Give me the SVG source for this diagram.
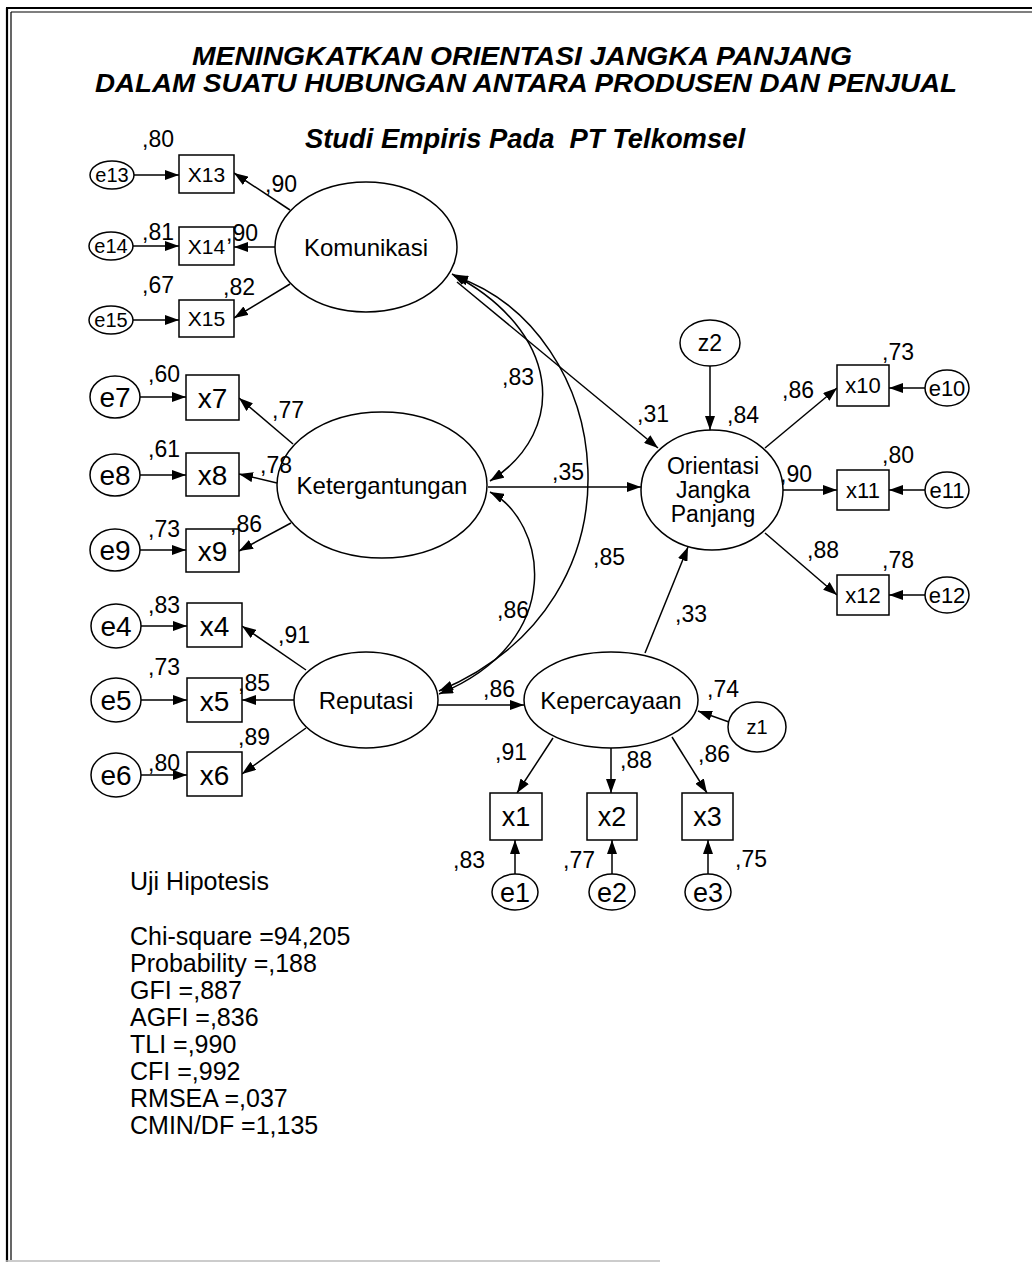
<svg xmlns="http://www.w3.org/2000/svg" width="1032" height="1264" viewBox="0 0 1032 1264">
<defs>
<marker id="arr" markerUnits="userSpaceOnUse" markerWidth="14" markerHeight="10" refX="14" refY="5" orient="auto-start-reverse">
<path d="M0,0 L14,5 L0,10 z" fill="#000"/>
</marker>
</defs>
<style>
text{font-family:"Liberation Sans",Arial,sans-serif;fill:#000}
.title{font-size:25px;font-weight:bold;font-style:italic}
.sub{font-size:27px;font-weight:bold;font-style:italic}
.lat{font-size:24px;text-anchor:middle}
.num{font-size:23px}
.sm{font-size:21px;text-anchor:middle}
.big{font-size:28px;text-anchor:middle}
.stat{font-size:25px}
ellipse,rect{fill:#fff;stroke:#000;stroke-width:1.5}
.c line,.c path{stroke:#000;stroke-width:1.5;fill:none}
.a{marker-end:url(#arr)}
.d{marker-start:url(#arr);marker-end:url(#arr)}
</style>
<rect x="0" y="0" width="1032" height="1264" style="fill:#fff;stroke:none"/>
<g id="frame" style="stroke:#000;fill:none">
<line x1="6" y1="8" x2="1032" y2="8" stroke-width="2.2"/>
<line x1="11" y1="12" x2="1032" y2="12" stroke-width="1.2"/>
<line x1="7" y1="8" x2="7" y2="1262" stroke-width="2.2"/>
<line x1="11" y1="12" x2="11" y2="1260" stroke-width="1.2"/>
<line x1="6" y1="1261" x2="660" y2="1261" stroke="#bbb" stroke-width="1.5"/>
</g>
<g id="title">
<text class="title"><tspan x="192" y="65" textLength="660" lengthAdjust="spacingAndGlyphs">MENINGKATKAN ORIENTASI JANGKA PANJANG</tspan><tspan x="95" y="92" textLength="862" lengthAdjust="spacingAndGlyphs">DALAM SUATU HUBUNGAN ANTARA PRODUSEN DAN PENJUAL</tspan></text>
<text class="sub" x="305" y="148" textLength="440" lengthAdjust="spacingAndGlyphs" xml:space="preserve">Studi Empiris Pada  PT Telkomsel</text>
</g>
<g id="connectors" class="c">
<line class="a" x1="134" y1="175" x2="179" y2="175"/>
<line class="a" x1="133" y1="246" x2="179" y2="246"/>
<line class="a" x1="133" y1="320" x2="179" y2="320"/>
<line class="a" x1="290" y1="210" x2="234" y2="173"/>
<line class="a" x1="275" y1="247" x2="234" y2="247"/>
<line class="a" x1="290" y1="284" x2="234" y2="318"/>
<line class="a" x1="140" y1="397" x2="186" y2="397"/>
<line class="a" x1="140" y1="475" x2="186" y2="475"/>
<line class="a" x1="140" y1="550" x2="186" y2="550"/>
<line class="a" x1="293" y1="444" x2="239" y2="398"/>
<line class="a" x1="277" y1="483" x2="239" y2="474"/>
<line class="a" x1="291" y1="523" x2="239" y2="551"/>
<line class="a" x1="141" y1="626" x2="187" y2="626"/>
<line class="a" x1="141" y1="700" x2="187" y2="700"/>
<line class="a" x1="141" y1="775" x2="187" y2="775"/>
<line class="a" x1="306" y1="670" x2="242" y2="626"/>
<line class="a" x1="294" y1="700" x2="242" y2="700"/>
<line class="a" x1="306" y1="728" x2="242" y2="774"/>
<path class="d" d="M452,274 C560,330 570,430 490,481"/>
<path class="d" d="M454,276 C615,330 655,600 439,691"/>
<path class="d" d="M490,492 C545,520 570,640 439,694"/>
<line class="a" x1="457" y1="282" x2="658" y2="448"/>
<line class="a" x1="488" y1="487" x2="641" y2="487"/>
<line class="a" x1="438" y1="705" x2="524" y2="705"/>
<line class="a" x1="645" y1="653" x2="688" y2="547"/>
<line class="a" x1="710" y1="366" x2="710" y2="430"/>
<line class="a" x1="729" y1="722" x2="698" y2="711"/>
<line class="a" x1="765" y1="448" x2="837" y2="388"/>
<line class="a" x1="783" y1="490" x2="837" y2="490"/>
<line class="a" x1="765" y1="533" x2="837" y2="595"/>
<line class="a" x1="925" y1="388" x2="889" y2="388"/>
<line class="a" x1="925" y1="490" x2="889" y2="490"/>
<line class="a" x1="925" y1="595" x2="889" y2="595"/>
<line class="a" x1="553" y1="738" x2="517" y2="793"/>
<line class="a" x1="611" y1="748" x2="611" y2="793"/>
<line class="a" x1="672" y1="737" x2="707" y2="793"/>
<line class="a" x1="515" y1="874" x2="515" y2="840"/>
<line class="a" x1="612" y1="874" x2="612" y2="840"/>
<line class="a" x1="708" y1="874" x2="708" y2="840"/>
</g>
<g id="Komunikasi"><ellipse cx="366" cy="247" rx="91" ry="65"/><text class="lat" x="366" y="256">Komunikasi</text></g>
<g id="Ketergantungan"><ellipse cx="382" cy="485" rx="105" ry="73"/><text class="lat" x="382" y="494">Ketergantungan</text></g>
<g id="Reputasi"><ellipse cx="366" cy="700" rx="72" ry="48"/><text class="lat" x="366" y="709">Reputasi</text></g>
<g id="Orientasi"><ellipse cx="712" cy="490" rx="71" ry="60"/><text class="lat" style="font-size:23px"><tspan x="713" y="474">Orientasi</tspan><tspan x="713" y="498">Jangka</tspan><tspan x="713" y="522">Panjang</tspan></text></g>
<g id="Kepercayaan"><ellipse cx="611" cy="700" rx="87" ry="48"/><text class="lat" x="611" y="709">Kepercayaan</text></g>
<g id="z2"><ellipse cx="710" cy="343" rx="30" ry="23"/><text class="sm" x="710" y="351" style="font-size:23px">z2</text></g>
<g id="z1"><ellipse cx="757" cy="727" rx="29" ry="25"/><text class="sm" x="757" y="734" style="font-size:20px">z1</text></g>
<g id="e13"><ellipse cx="112" cy="175" rx="22" ry="14"/><text class="sm" x="112" y="182" style="font-size:20px">e13</text></g>
<g id="e14"><ellipse cx="111" cy="246" rx="22" ry="14"/><text class="sm" x="111" y="253" style="font-size:20px">e14</text></g>
<g id="e15"><ellipse cx="111" cy="320" rx="22" ry="14"/><text class="sm" x="111" y="327" style="font-size:20px">e15</text></g>
<g id="X13"><rect x="179" y="155" width="55" height="38"/><text class="sm" x="206.5" y="182">X13</text></g>
<g id="X14"><rect x="179" y="227" width="55" height="38"/><text class="sm" x="206.5" y="254">X14</text></g>
<g id="X15"><rect x="179" y="300" width="55" height="37"/><text class="sm" x="206.5" y="326">X15</text></g>
<g id="e7"><ellipse cx="115" cy="397" rx="25" ry="21"/><text class="big" x="115" y="407">e7</text></g>
<g id="e8"><ellipse cx="115" cy="475" rx="25" ry="21"/><text class="big" x="115" y="485">e8</text></g>
<g id="e9"><ellipse cx="115" cy="550" rx="25" ry="21"/><text class="big" x="115" y="560">e9</text></g>
<g id="x7"><rect x="186" y="375" width="53" height="45"/><text class="big" x="212.5" y="408">x7</text></g>
<g id="x8"><rect x="186" y="453" width="53" height="43"/><text class="big" x="212.5" y="485">x8</text></g>
<g id="x9"><rect x="186" y="529" width="53" height="43"/><text class="big" x="212.5" y="561">x9</text></g>
<g id="e4"><ellipse cx="116" cy="626" rx="25" ry="22"/><text class="big" x="116" y="636">e4</text></g>
<g id="e5"><ellipse cx="116" cy="700" rx="25" ry="22"/><text class="big" x="116" y="710">e5</text></g>
<g id="e6"><ellipse cx="116" cy="775" rx="25" ry="22"/><text class="big" x="116" y="785">e6</text></g>
<g id="x4"><rect x="187" y="603" width="55" height="44"/><text class="big" x="214.5" y="636">x4</text></g>
<g id="x5"><rect x="187" y="678" width="55" height="44"/><text class="big" x="214.5" y="711">x5</text></g>
<g id="x6"><rect x="187" y="752" width="55" height="44"/><text class="big" x="214.5" y="785">x6</text></g>
<g id="x10"><rect x="837" y="365" width="52" height="41"/><text class="sm" x="863" y="393" style="font-size:22px">x10</text></g>
<g id="x11"><rect x="837" y="470" width="52" height="40"/><text class="sm" x="863" y="498" style="font-size:22px">x11</text></g>
<g id="x12"><rect x="837" y="575" width="52" height="40"/><text class="sm" x="863" y="603" style="font-size:22px">x12</text></g>
<g id="e10"><ellipse cx="947" cy="388" rx="22" ry="18"/><text class="sm" x="947" y="396" style="font-size:22px">e10</text></g>
<g id="e11"><ellipse cx="947" cy="490" rx="22" ry="18"/><text class="sm" x="947" y="498" style="font-size:22px">e11</text></g>
<g id="e12"><ellipse cx="947" cy="595" rx="22" ry="18"/><text class="sm" x="947" y="603" style="font-size:22px">e12</text></g>
<g id="x1"><rect x="490" y="793" width="52" height="47"/><text class="big" x="516" y="826" style="font-size:27px">x1</text></g>
<g id="x2"><rect x="587" y="793" width="50" height="47"/><text class="big" x="612" y="826" style="font-size:27px">x2</text></g>
<g id="x3"><rect x="682" y="793" width="51" height="47"/><text class="big" x="707.5" y="826" style="font-size:27px">x3</text></g>
<g id="e1"><ellipse cx="515" cy="892" rx="23" ry="18"/><text class="big" x="515" y="902" style="font-size:27px">e1</text></g>
<g id="e2"><ellipse cx="612" cy="892" rx="23" ry="18"/><text class="big" x="612" y="902" style="font-size:27px">e2</text></g>
<g id="e3"><ellipse cx="708" cy="892" rx="23" ry="18"/><text class="big" x="708" y="902" style="font-size:27px">e3</text></g>
<g id="labels">
<text class="num" x="142" y="147">,80</text>
<text class="num" x="265" y="192">,90</text>
<text class="num" x="142" y="240">,81</text>
<text class="num" x="226" y="241">,90</text>
<text class="num" x="142" y="293">,67</text>
<text class="num" x="223" y="295">,82</text>
<text class="num" x="148" y="382">,60</text>
<text class="num" x="272" y="418">,77</text>
<text class="num" x="148" y="457">,61</text>
<text class="num" x="260" y="473">,78</text>
<text class="num" x="148" y="537">,73</text>
<text class="num" x="230" y="532">,86</text>
<text class="num" x="148" y="613">,83</text>
<text class="num" x="278" y="643">,91</text>
<text class="num" x="148" y="675">,73</text>
<text class="num" x="238" y="691">,85</text>
<text class="num" x="238" y="745">,89</text>
<text class="num" x="148" y="771">,80</text>
<text class="num" x="502" y="385">,83</text>
<text class="num" x="637" y="422">,31</text>
<text class="num" x="552" y="480">,35</text>
<text class="num" x="593" y="565">,85</text>
<text class="num" x="497" y="618">,86</text>
<text class="num" x="727" y="423">,84</text>
<text class="num" x="782" y="398">,86</text>
<text class="num" x="882" y="360">,73</text>
<text class="num" x="780" y="482">,90</text>
<text class="num" x="882" y="463">,80</text>
<text class="num" x="807" y="558">,88</text>
<text class="num" x="882" y="568">,78</text>
<text class="num" x="675" y="622">,33</text>
<text class="num" x="483" y="697">,86</text>
<text class="num" x="707" y="697">,74</text>
<text class="num" x="495" y="760">,91</text>
<text class="num" x="620" y="768">,88</text>
<text class="num" x="698" y="762">,86</text>
<text class="num" x="453" y="868">,83</text>
<text class="num" x="563" y="868">,77</text>
<text class="num" x="735" y="867">,75</text>
</g>
<g id="stats">
<text class="stat" x="130" y="890">Uji Hipotesis</text>
<text class="stat"><tspan x="130" y="945">Chi-square =94,205</tspan><tspan x="130" y="972">Probability =,188</tspan><tspan x="130" y="999">GFI =,887</tspan><tspan x="130" y="1026">AGFI =,836</tspan><tspan x="130" y="1053">TLI =,990</tspan><tspan x="130" y="1080">CFI =,992</tspan><tspan x="130" y="1107">RMSEA =,037</tspan><tspan x="130" y="1134">CMIN/DF =1,135</tspan></text>
</g>
</svg>
